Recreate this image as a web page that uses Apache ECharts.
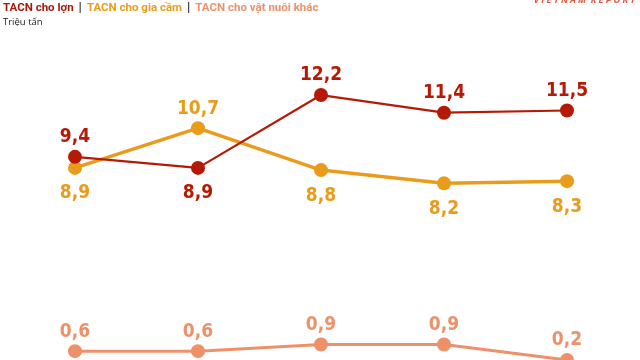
<!DOCTYPE html>
<html>
<head>
<meta charset="utf-8">
<script src="https://cdn.jsdelivr.net/npm/echarts@6/dist/echarts.min.js"></script>
<style>html,body{margin:0;padding:0;background:#fff}#c{width:640px;height:360px}</style>
</head>
<body>
<div id="c"></div>
<script>
const categories = ['2019', '2020', '2021', '2022', '2023'];
const pigFeed = [9.4, 8.9, 12.2, 11.4, 11.5];
const poultryFeed = [8.9, 10.7, 8.8, 8.2, 8.3];
const otherFeed = [0.6, 0.6, 0.9, 0.9, 0.2];
const pigLabelPos = ['top', 'bottom', 'top', 'top', 'top'];
const poultryLabelPos = ['bottom', 'top', 'bottom', 'bottom', 'bottom'];

const RED = '#b41a05', GOLD = '#e99c1c', SALMON = '#ee916a';
const LABEL_FONT = '"DejaVu Sans Condensed",sans-serif';
const TITLE_FONT = 'Roboto, sans-serif';

function mk(values, positions) {
  return values.map((v, i) => ({
    value: v,
    label: { position: positions[i], distance: positions[i] === 'top' ? 3 : 9 }
  }));
}
const fmt = p => String(p.value).replace('.', ',');
const lbl = (color) => ({ show: true, position: 'top', distance: 3, color: color, fontSize: 19, fontWeight: 'bold', fontFamily: LABEL_FONT, formatter: fmt });

const chart = echarts.init(document.getElementById('c'), null, { renderer: 'canvas' });
chart.setOption({
  animation: false,
  title: [{
    left: -2, top: -6,
    text: '{a|TACN cho lợn} {s||} {b|TACN cho gia cầm} {s||} {c|TACN cho vật nuôi khác}',
    textStyle: {
      rich: {
        a: { color: '#a8190b', fontSize: 11.5, fontWeight: 'bold', fontFamily: TITLE_FONT },
        b: { color: GOLD, fontSize: 11.5, fontWeight: 'bold', fontFamily: TITLE_FONT },
        c: { color: SALMON, fontSize: 11.5, fontWeight: 'bold', fontFamily: TITLE_FONT },
        s: { color: '#333', fontSize: 13, fontWeight: 'bold', fontFamily: TITLE_FONT }
      }
    }
  }, {
    left: -2, top: 12,
    text: 'Triệu tấn',
    textStyle: { color: '#222', fontSize: 9.5, fontWeight: 'normal', fontFamily: 'Open Sans' }
  }, {
    right: 0, top: -9,
    text: 'V I E T N A M  R E P O R T',
    textStyle: { color: '#e0553a', fontSize: 9, fontWeight: 'bold', fontStyle: 'italic', fontFamily: 'Open Sans' }
  }],
  grid: { left: 75, right: 73, top: 55.3, bottom: 0 },
  xAxis: {
    type: 'category', data: categories, boundaryGap: false, show: false
  },
  yAxis: {
    type: 'value', min: 0.2, max: 14, show: false, splitLine: { show: false }
  },
  series: [{
    name: 'TACN cho vật nuôi khác', type: 'line', data: otherFeed,
    symbol: 'circle', symbolSize: 14,
    itemStyle: { color: SALMON }, lineStyle: { color: SALMON, width: 3 },
    label: lbl(SALMON)
  }, {
    name: 'TACN cho gia cầm', type: 'line', data: mk(poultryFeed, poultryLabelPos),
    symbol: 'circle', symbolSize: 14,
    itemStyle: { color: GOLD }, lineStyle: { color: GOLD, width: 3.5 },
    label: lbl(GOLD)
  }, {
    name: 'TACN cho lợn', type: 'line', data: mk(pigFeed, pigLabelPos),
    symbol: 'circle', symbolSize: 14,
    itemStyle: { color: RED }, lineStyle: { color: RED, width: 2.2 },
    label: lbl(RED)
  }]
});
</script>
</body>
</html>
